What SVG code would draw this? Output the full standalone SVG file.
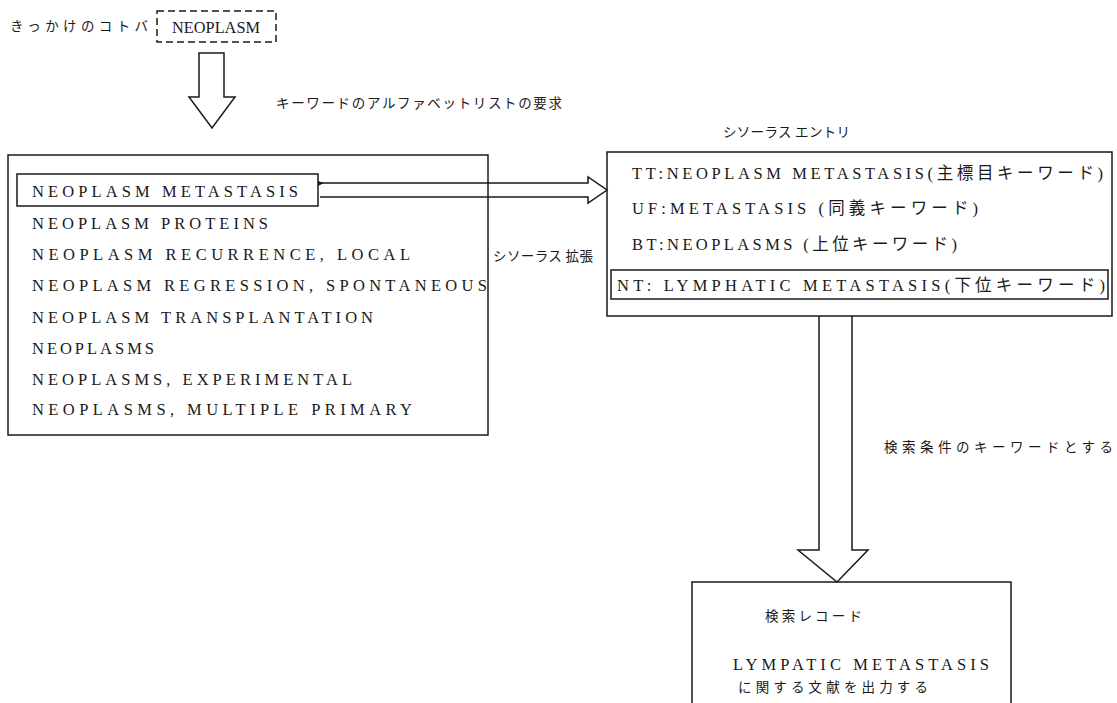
<svg xmlns="http://www.w3.org/2000/svg" width="1117" height="703" viewBox="0 0 1117 703">
  <style>
    .bg { fill: #ffffff; }
    .box { fill: none; stroke: #1a1a1a; stroke-width: 1.5; }
    .dash { fill: none; stroke: #1a1a1a; stroke-width: 1.5; stroke-dasharray: 7 4; }
    .arrow { fill: none; stroke: #1a1a1a; stroke-width: 1.5; stroke-linejoin: miter; }
    .en { font-family: "Liberation Serif", "Noto Sans CJK JP", serif; font-size: 16.5px; fill: #1a1a1a; }
    .jp { font-family: "Noto Sans CJK JP", sans-serif; font-size: 13.5px; fill: #1a1a1a; }
    .mix { font-family: "Liberation Serif", "Noto Sans CJK JP", serif; font-size: 16.5px; fill: #1a1a1a; }
  </style>
  <rect class="bg" x="0" y="0" width="1117" height="703"/>

  <!-- trigger word -->
  <g id="trigger">
    <text class="jp" x="10" y="31" textLength="138" lengthAdjust="spacing">きっかけのコトバ</text>
    <rect class="dash" x="157" y="11" width="119" height="31"/>
    <text class="en" x="172" y="33" font-size="16" textLength="88" lengthAdjust="spacingAndGlyphs">NEOPLASM</text>
  </g>

  <!-- alphabetical keyword list -->
  <g id="keyword-list">
    <rect class="box" x="8" y="155" width="480" height="280"/>
    <rect class="box" x="17" y="174" width="301" height="32"/>
    <text class="en" x="32" y="197" textLength="266" lengthAdjust="spacing">NEOPLASM METASTASIS</text>
    <text class="en" x="32" y="229" textLength="236" lengthAdjust="spacing">NEOPLASM PROTEINS</text>
    <text class="en" x="32" y="260" textLength="378" lengthAdjust="spacing">NEOPLASM RECURRENCE, LOCAL</text>
    <text class="en" x="32" y="291" textLength="455" lengthAdjust="spacing">NEOPLASM REGRESSION, SPONTANEOUS</text>
    <text class="en" x="32" y="323" textLength="341" lengthAdjust="spacing">NEOPLASM TRANSPLANTATION</text>
    <text class="en" x="32" y="354" textLength="122" lengthAdjust="spacing">NEOPLASMS</text>
    <text class="en" x="32" y="385" textLength="320" lengthAdjust="spacing">NEOPLASMS, EXPERIMENTAL</text>
    <text class="en" x="32" y="415" textLength="380" lengthAdjust="spacing">NEOPLASMS, MULTIPLE PRIMARY</text>
  </g>

  <!-- thesaurus entry -->
  <g id="thesaurus-entry">
    <text class="jp" x="723" y="137" textLength="127" lengthAdjust="spacing">シソーラス エントリ</text>
    <rect class="box" x="607" y="152" width="505" height="164"/>
    <text class="mix" x="632" y="179" textLength="471" lengthAdjust="spacing">TT:NEOPLASM METASTASIS(主標目キーワード)</text>
    <text class="mix" x="632" y="214" textLength="346" lengthAdjust="spacing">UF:METASTASIS  (同義キーワード)</text>
    <text class="mix" x="632" y="250" textLength="325" lengthAdjust="spacing">BT:NEOPLASMS    (上位キーワード)</text>
    <rect class="box" x="611" y="270" width="497" height="29"/>
    <text class="mix" x="617" y="291" textLength="488" lengthAdjust="spacing">NT:  LYMPHATIC METASTASIS(下位キーワード)</text>
  </g>

  <!-- retrieval record -->
  <g id="retrieval-record">
    <rect class="box" x="692" y="582" width="319" height="140"/>
    <text class="jp" x="765" y="621" textLength="97" lengthAdjust="spacing">検索レコード</text>
    <text class="en" x="733" y="670" textLength="256" lengthAdjust="spacing">LYMPATIC METASTASIS</text>
    <text class="jp" x="738" y="692" textLength="190" lengthAdjust="spacing">に関する文献を出力する</text>
  </g>

  <!-- connectors -->
  <g id="connectors">
    <path class="arrow" d="M199,53 H224 V97 H235 L212,128 L189,97 H199 Z"/>
    <text class="jp" x="276" y="108" textLength="286" lengthAdjust="spacing">キーワードのアルファベットリストの要求</text>

    <path class="arrow" d="M320,183 H588 V177 L607,190 L588,203 V197 H320"/>
    <path d="M318,181 L324,183 L318,186 Z" fill="#1a1a1a"/>
    <text class="jp" x="493" y="261" textLength="100" lengthAdjust="spacing">シソーラス 拡張</text>

    <path class="arrow" d="M819,316 V550 H798 L837,582 L868,550 H852 V316"/>
    <text class="jp" x="884" y="452" textLength="229" lengthAdjust="spacing">検索条件のキーワードとする</text>
  </g>
</svg>
